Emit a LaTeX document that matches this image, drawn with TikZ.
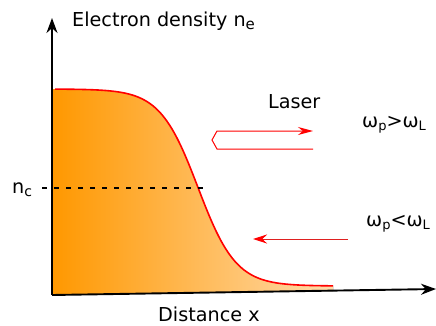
\documentclass[tikz,border=0pt]{standalone}
\usepackage{fontspec}
\setmainfont{DejaVu Sans}
\usetikzlibrary{arrows.meta}

\definecolor{densdark}{RGB}{255,152,0}
\definecolor{denslight}{RGB}{255,218,170}

\begin{document}
\begin{tikzpicture}[
      x=1pt, y=-1pt,
      lbl/.style={font=\fontsize{19.2}{23}\selectfont, inner sep=0pt, anchor=base west},
      axis/.style={line width=1.9pt, -{Stealth[length=15pt, width=11pt]}},
      beam/.style={red, line width=1pt},
    ]
    \useasboundingbox (0,0) rectangle (436,325);
    % profile: n(x) = 89 + 197/(1+exp(-(x-198)/19)), px units
    \def\prof{89+197/(1+exp(-(\x-198)/19))}

    % axes end points
    \coordinate (origin) at (52,295);
    \coordinate (ytop) at (52,18);
    \coordinate (xend) at (436,289);
    \coordinate (xfoot) at (333,291);

    % shaded density
    \fill[left color=densdark, middle color=densdark!75!denslight, right color=denslight]
      (origin) -- (52,89) -- plot[domain=52:333, samples=120] (\x, {\prof})
      -- (xfoot) -- cycle;
    \draw[red, line width=1.6pt] plot[domain=55:333, samples=120] (\x, {\prof});

    % critical density
    \draw[line width=2.6pt, dash pattern=on 5pt off 7pt] (42,188) -- (205,188);

    \draw[axis] (origin) -- (ytop);
    \draw[axis] (origin) -- (xend);

    % labels
    \node[lbl] (ylab) at (72,26) {Electron density n\raisebox{-3pt}{\fontsize{15}{15}\selectfont e}};
    \node[lbl] (xlab) at (158,321) {Distance x};
    \node[lbl] (nc) at (12,193) {n\raisebox{-3pt}{\fontsize{14}{14}\selectfont c}};
    \node[lbl] (laser) at (268,108) {Laser};
    \node[lbl] (over) at (362,127)
      {ω\raisebox{-3pt}{\fontsize{13}{13}\selectfont p}>ω\raisebox{-3pt}{\fontsize{13}{13}\selectfont L}};
    \node[lbl] (under) at (366,226)
      {ω\raisebox{-3pt}{\fontsize{13}{13}\selectfont p}<ω\raisebox{-3pt}{\fontsize{13}{13}\selectfont L}};

    % reflected laser (incoming and outgoing)
    \coordinate (rtip) at (313,131);
    \coordinate (rend) at (313,149);
    \draw[beam, {Stealth[length=15pt, width=8pt]}-] (rtip) -- (217,131) -- (212,140)
      -- (217,149) -- (rend);
    % transmitted laser
    \coordinate (tstart) at (348,239);
    \coordinate (ttip) at (253,239);
    \draw[beam, red!75!gray, -{Stealth[length=14pt, width=9pt, red]}] (tstart) -- (ttip);
  \end{tikzpicture}
\end{document}
